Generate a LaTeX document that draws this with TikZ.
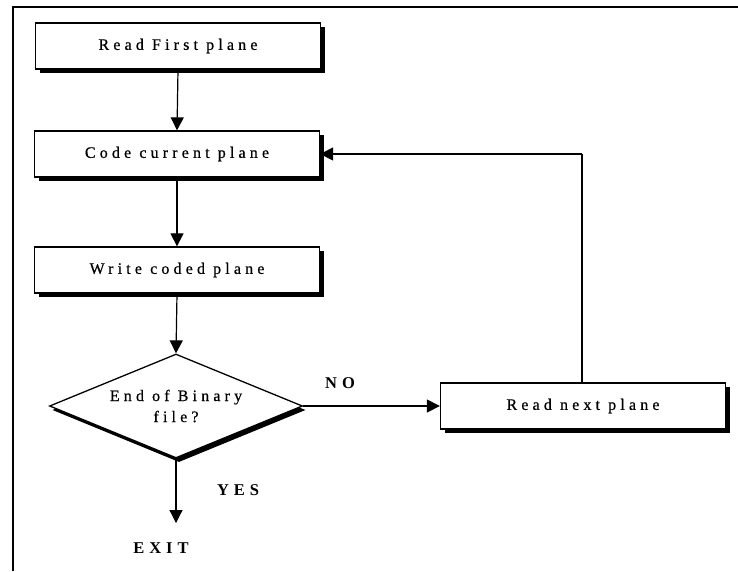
\documentclass[tikz,border=0pt]{standalone}
\usepackage{fontspec}
\setmainfont{Liberation Serif}
\newfontfamily\spaced[LetterSpace=26,FakeBold=0.6]{Liberation Serif}
\newfontfamily\spacedbold[LetterSpace=30]{Liberation Serif Bold}
\usetikzlibrary{shapes.geometric,arrows.meta}
\begin{document}
\begin{tikzpicture}[x=1pt,y=-1pt,
  procbox/.style={draw=black,line width=1.3pt,fill=white,minimum width=285pt,minimum height=46pt,font=\spaced\fontsize{16}{18}\selectfont,inner sep=0pt},
  decbox/.style={draw=black,line width=1.3pt,fill=white,diamond,minimum width=253pt,minimum height=104pt,aspect=2.43,inner sep=0pt,font=\spaced\fontsize{16}{21}\selectfont,align=center},
  shadowbox/.style={fill=black,minimum width=285pt,minimum height=46pt,inner sep=0pt},
  shadowdia/.style={fill=black,diamond,minimum width=253pt,minimum height=104pt,aspect=2.43,inner sep=0pt},
  conn/.style={line width=1.2pt,-{Triangle[length=13pt,width=13pt]}},
  plain/.style={line width=1.2pt},
  lab/.style={font=\spacedbold\fontsize{16.5}{18}\selectfont,inner sep=0pt}]
\useasboundingbox (0,0) rectangle (738,571);
% frame
\draw[line width=1.3pt] (13,571) -- (13,7) -- (738,7);
% shadows
\node[shadowbox] at (182,50) {};
\node[shadowbox] at (181,158) {};
\node[shadowbox] at (181,274) {};
\node[shadowbox] at (587,410) {};
\node[shadowdia] at (179,410) {};
% nodes
\node[procbox] (b1) at (178,46) {Read First plane};
\node[procbox] (b2) at (177,154) {Code current plane};
\node[procbox] (b3) at (177,270) {Write coded plane};
\node[decbox] (d) at (176,406) {End of Binary\\file?};
\node[procbox] (b4) at (583,406) {Read next plane};
\coordinate (ex) at (176,523);
\coordinate (up) at (582,154);
% connectors
\draw[conn] (b1.south) -- (b2.north);
\draw[conn] (b2.south) -- (b3.north);
\draw[conn] (b3.south) -- (d.north);
\draw[conn] (d.east) -- (b4.west);
\draw[conn] (d.south) -- (ex);
\draw[plain] (b4.north -| up) -- (up);
\draw[conn] (up) -- (b2.east);
% labels
\node[lab] (no) at (340,383) {NO};
\node[lab] (yes) at (238,490) {YES};
\node[lab] (exit) at (161,548) {EXIT};
\end{tikzpicture}
\end{document}
